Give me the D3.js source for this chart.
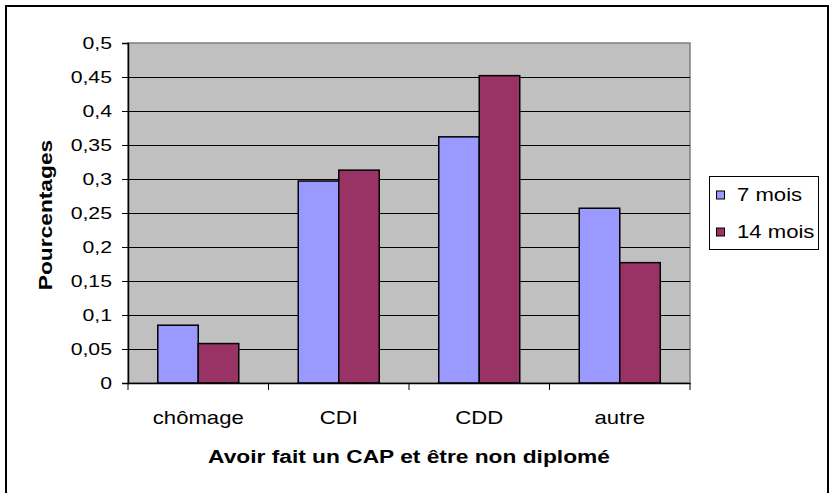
<!DOCTYPE html>
<html><head><meta charset="utf-8">
<script src="https://cdn.jsdelivr.net/npm/d3@7"></script>
<style>body{margin:0;background:#fff}svg{display:block;font-family:"Liberation Sans",Arial,sans-serif}</style>
</head><body><svg id="c" width="831" height="493"></svg>
<script>
const categories = ["chômage", "CDI", "CDD", "autre"];
const seriesNames = ["7 mois", "14 mois"];
const values7 = [0.085, 0.297, 0.362, 0.257];
const values14 = [0.058, 0.313, 0.452, 0.177];
const yTicks = [0, 0.05, 0.1, 0.15, 0.2, 0.25, 0.3, 0.35, 0.4, 0.45, 0.5];
const colors = ["#9999FF", "#993366"];

const SX = 1.25;
const svg = d3.select("#c");
const L = 128, R = 690, T = 43, B = 383;
const x = d3.scaleBand().domain(categories).range([L, R]).padding(0);
const inner = d3.scaleBand().domain(seriesNames).range([0, 81]);
const y = d3.scaleLinear().domain([0, 0.5]).range([B, T]);
const groupOff = (x.bandwidth() - 81) / 2;

// outer frame
svg.append("rect").attr("x", 6).attr("y", 6).attr("width", 822).attr("height", 500)
  .attr("fill", "#fff").attr("stroke", "#000").attr("stroke-width", 2);

// plot area
svg.append("rect").attr("x", L).attr("y", T).attr("width", R - L).attr("height", B - T)
  .attr("fill", "#C0C0C0").attr("stroke", "#808080").attr("stroke-width", 1.5);

// gridlines
svg.append("g").selectAll("line").data(yTicks.filter(d => d > 0 && d < 0.5)).join("line")
  .attr("x1", L).attr("x2", R).attr("y1", d => Math.round(y(d)) + 0.5).attr("y2", d => Math.round(y(d)) + 0.5)
  .attr("stroke", "#000").attr("stroke-width", 1);

// bars
const data = categories.map((c, i) => [values7[i], values14[i]]);
const g = svg.append("g");
categories.forEach((c, i) => {
  g.selectAll(null).data(data[i]).join("rect")
    .attr("x", (d, j) => x(c) + groupOff + inner(seriesNames[j]))
    .attr("y", d => y(d))
    .attr("width", inner.bandwidth())
    .attr("height", d => B - y(d))
    .attr("fill", (d, j) => colors[j])
    .attr("stroke", "#000").attr("stroke-width", 1.5);
});

// y axis
const yAxis = d3.axisLeft(y).tickValues(yTicks).tickSize(6).tickPadding(9)
  .tickFormat(d => String(d).replace(".", ","));
const ya = svg.append("g").attr("transform", `translate(${L},0)`).call(yAxis);
ya.select(".domain").attr("stroke", "#000").attr("stroke-width", 1.5);
ya.selectAll(".tick line").attr("stroke", "#000");
ya.selectAll("text").attr("font-size", 17).attr("fill", "#000")
  .attr("font-family", '"Liberation Sans",Arial,sans-serif')
  .attr("x", 0).attr("transform", `translate(-16,0) scale(${SX},1)`);

// x axis
const xAxis = d3.axisBottom(x).tickSize(0).tickPadding(0);
const xa = svg.append("g").attr("transform", `translate(0,${B})`).call(xAxis);
xa.select(".domain").attr("stroke", "#000").attr("stroke-width", 1.5);
xa.selectAll("text").attr("font-size", 17.7).attr("fill", "#000").attr("dy", 0).attr("y", 0)
  .attr("transform", `translate(0,41) scale(${SX},1)`)
  .attr("font-family", '"Liberation Sans",Arial,sans-serif');
// category separators ticks
svg.append("g").selectAll("line").data(categories.map(c => x(c)).concat([R])).join("line")
  .attr("x1", d => d).attr("x2", d => d).attr("y1", B).attr("y2", B + 7)
  .attr("stroke", "#000").attr("stroke-width", 1);

// titles
svg.append("text").attr("transform", `translate(${(L + R) / 2},463) scale(${SX},1)`).attr("text-anchor", "middle")
  .attr("font-size", 18.2).attr("font-weight", "bold").text("Avoir fait un CAP et être non diplomé");
svg.append("text").attr("transform", `translate(52,215) rotate(-90) scale(${SX},1)`).attr("text-anchor", "middle")
  .attr("font-size", 18.2).attr("font-weight", "bold").text("Pourcentages");

// legend
const lg = svg.append("g");
lg.append("rect").attr("x", 709.5).attr("y", 176.5).attr("width", 109).attr("height", 73)
  .attr("fill", "#fff").attr("stroke", "#000").attr("stroke-width", 1);
seriesNames.forEach((s, i) => {
  const yy = 191 + i * 37;
  lg.append("rect").attr("x", 716.5).attr("y", yy).attr("width", 8).attr("height", 8)
    .attr("fill", colors[i]).attr("stroke", "#000").attr("stroke-width", 1);
  lg.append("text").attr("transform", `translate(737,${yy + 9.5}) scale(${SX},1)`)
    .attr("font-size", 17.7).text(s);
});
</script></body></html>
